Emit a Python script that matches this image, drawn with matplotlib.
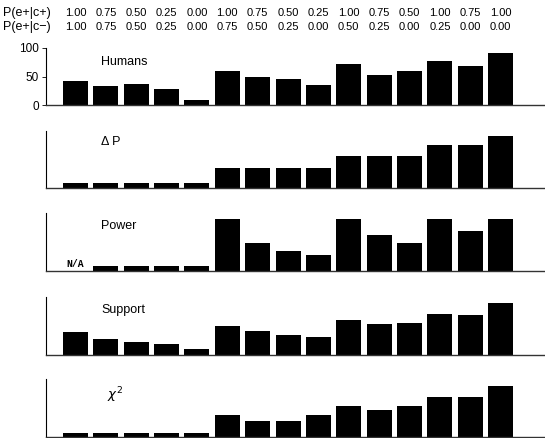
import numpy as np
import matplotlib
matplotlib.use("Agg")
import matplotlib.pyplot as plt

plt.rcParams["font.family"] = ["Liberation Sans", "DejaVu Sans"]
plt.rcParams["mathtext.fontset"] = "dejavusans"

# Header rows: contingency conditions
p_e_c_plus = ["1.00", "0.75", "0.50", "0.25", "0.00", "1.00", "0.75", "0.50",
              "0.25", "1.00", "0.75", "0.50", "1.00", "0.75", "1.00"]
p_e_c_minus = ["1.00", "0.75", "0.50", "0.25", "0.00", "0.75", "0.50", "0.25",
               "0.00", "0.50", "0.25", "0.00", "0.25", "0.00", "0.00"]

# Panel values (0-100 scale as drawn)
humans  = [42, 33.5, 37, 28, 10, 59, 49, 46, 35, 72, 53, 59, 77, 69, 91]
delta_p = [10, 10, 10, 10, 10, 36, 36, 36, 36, 56, 56, 56, 75, 75, 91]
power   = [np.nan, 8.7, 8.7, 8.7, 8.7, 89.6, 48, 34.7, 28.3, 89.6, 61.8, 48, 89.6, 68.8, 89.6]
support = [40, 27.4, 22.3, 18.3, 10.3, 49.7, 41, 34.3, 30.9, 60, 53, 54.9, 72, 70.3, 89.7]
chi2    = [6.9, 6.9, 6.9, 6.9, 6.9, 37.6, 27.7, 27.7, 37.6, 53.8, 47.4, 53.8, 69.4, 69.4, 87.9]

panels = [("Humans", humans), ("\u0394 P", delta_p), ("Power", power),
          ("Support", support), (r"$\chi^2$", chi2)]
label_y = [76, 80, 78, 78, 73]

W, H = 545, 438
fig = plt.figure(figsize=(W / 100, H / 100), dpi=100)
fig.patch.set_facecolor("white")

x = np.arange(len(humans))
left_px = 46
ax_h = 57.6
bottoms_px = [105.3, 188.3, 271, 355, 437]

axes = []
for i, ((name, vals), bpx) in enumerate(zip(panels, bottoms_px)):
    ax = fig.add_axes([left_px / W, 1 - bpx / H, 1 - left_px / W, ax_h / H])
    v = np.nan_to_num(np.array(vals, dtype=float))
    ax.bar(x, v, width=0.82, color="black")
    ax.set_xlim(-0.97, 15.46)
    ax.set_ylim(0, 100)
    ax.spines["top"].set_visible(False)
    ax.spines["right"].set_visible(False)
    ax.spines["left"].set_linewidth(0.8)
    ax.spines["bottom"].set_linewidth(1.0)
    ax.spines["bottom"].set_color("#333333")
    ax.set_xticks([])
    if i == 0:
        ax.set_yticks([0, 50, 100])
        ax.tick_params(axis="y", labelsize=8.5, length=3, width=0.6, pad=2)
    else:
        ax.set_yticks([])
    fs = 9.5 if i == 4 else 9
    tx = 1.05 if i == 4 else 0.84
    ax.text(tx, label_y[i], name, fontsize=fs, va="center", ha="left")
    axes.append(ax)

# N/A marker on Power panel
for j, val in enumerate(power):
    if np.isnan(val):
        axes[2].text(x[j], 3, "N/A", fontsize=7, family="Liberation Mono",
                     fontweight="bold", ha="center", va="bottom")

# Header rows above the first panel
ax0 = axes[0]
row1_y = 1 - 13 / H
row2_y = 1 - 27 / H
fig.text(3 / W, row1_y, "P(e+|c+)", fontsize=9, va="center", ha="left")
fig.text(3 / W, row2_y, "P(e+|c\u2212)", fontsize=9, va="center", ha="left")
for j in range(len(x)):
    xf = fig.transFigure.inverted().transform(ax0.transData.transform((x[j], 0)))[0]
    fig.text(xf, row1_y, p_e_c_plus[j], fontsize=8, va="center", ha="center")
    fig.text(xf, row2_y, p_e_c_minus[j], fontsize=8, va="center", ha="center")

fig.savefig("out.png", dpi=100)
